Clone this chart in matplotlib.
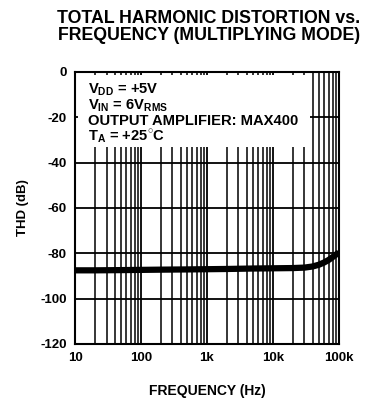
import numpy as np
import matplotlib.pyplot as plt
from matplotlib.ticker import FixedLocator, NullFormatter

plt.rcParams['font.family'] = ['Liberation Sans', 'DejaVu Sans']
plt.rcParams['font.weight'] = 'bold'
plt.rcParams['axes.labelweight'] = 'bold'
plt.rcParams['axes.unicode_minus'] = False
plt.rcParams['mathtext.fontset'] = 'custom'
plt.rcParams['mathtext.rm'] = 'Liberation Sans:bold'

# THD curve
freq = [10, 20, 50, 100, 200, 500, 1000, 2000, 5000, 10000,
        20000, 30000, 40000, 50000, 60000, 70000, 80000, 90000, 100000]
thd = [-87.5, -87.5, -87.4, -87.3, -87.2, -87.1, -87.0, -86.9, -86.7, -86.6,
       -86.5, -86.3, -85.8, -85.0, -84.0, -82.9, -81.7, -80.6, -79.5]

x_ticks = [10, 100, 1000, 10000, 100000]
x_labels = ['10', '100', '1k', '10k', '100k']
y_ticks = [0, -20, -40, -60, -80, -100, -120]

fig = plt.figure(figsize=(3.66, 4.0), dpi=100)
ax = fig.add_axes([0.205, 0.14, 0.721, 0.68])

ax.set_xscale('log')
ax.set_xlim(10, 100000)
ax.set_ylim(-120, 0)

# grid: majors + minor decades
minors = [m * 10**d for d in range(1, 5) for m in range(2, 10)]
ax.xaxis.set_major_locator(FixedLocator(x_ticks))
ax.xaxis.set_minor_locator(FixedLocator(minors))
ax.xaxis.set_minor_formatter(NullFormatter())
ax.set_xticks(x_ticks, x_labels)
ax.set_yticks(y_ticks)
ax.grid(True, which='major', color='black', lw=1.3)
ax.grid(True, which='minor', axis='x', color='black', lw=1.1)
ax.tick_params(which='both', length=0, labelsize=9.5, pad=6)
for s in ax.spines.values():
    s.set_linewidth(1.5)

ax.plot(freq, thd, color='black', lw=4.5, solid_capstyle='butt', zorder=5)

# white box hiding the grid under the conditions text
ax.add_patch(plt.Rectangle((11.1, -33.0), 37000 - 11.1, 31.5, facecolor='white',
                           edgecolor='none', zorder=3))
cond = [r'V$_{\mathrm{DD}}$ = +5V',
        r'V$_{\mathrm{IN}}$ = 6V$_{\mathrm{RMS}}$',
        'OUTPUT AMPLIFIER: MAX400',
        r'T$_{\mathrm{A}}$ = +25$^{\circ}$C']
for i, line in enumerate(cond):
    ax.text(0.048, 0.935 - i * 0.057, line, transform=ax.transAxes, fontsize=10.6,
            va='center', ha='left', zorder=6)

ax.set_ylabel('THD (dB)', fontsize=9.5, labelpad=8)
ax.set_xlabel('FREQUENCY (Hz)', fontsize=10, labelpad=14)

fig.text(0.57, 0.975, 'TOTAL HARMONIC DISTORTION vs.\nFREQUENCY (MULTIPLYING MODE)',
         ha='center', va='top', fontsize=12.8, linespacing=1.0)

fig.savefig('out.png', dpi=100)
